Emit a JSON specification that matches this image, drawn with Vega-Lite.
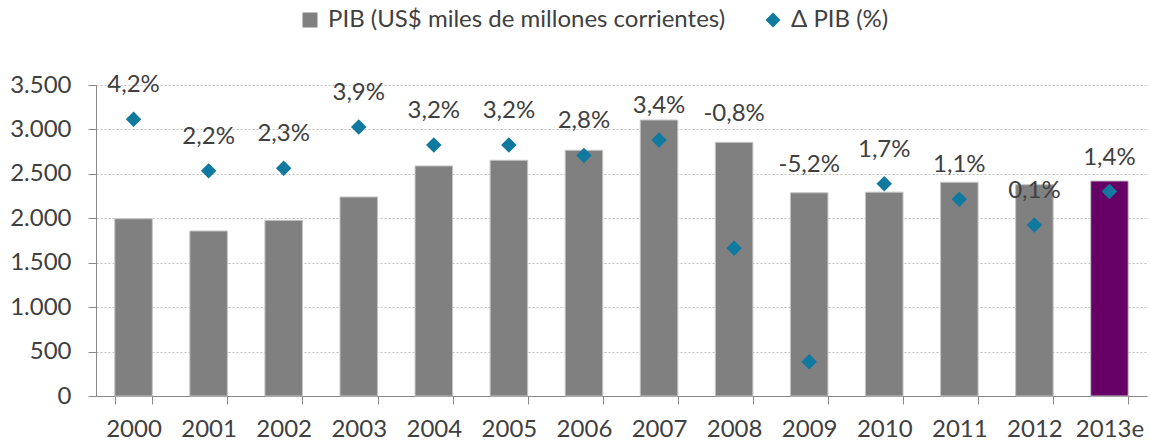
{
  "$schema": "https://vega.github.io/schema/vega-lite/v6.json",
  "autosize": {"type": "none"},
  "width": 1051,
  "height": 311,
  "padding": {"left": 96, "top": 85, "right": 3, "bottom": 46},
  "background": "white",
  "config": {
    "locale": {"number": {"decimal": ",", "thousands": ".", "grouping": [3], "currency": ["$", ""], "minus": "-"}},
    "font": "Lato",
    "view": {"stroke": null},
    "text": {"font": "Lato", "fontSize": 24, "color": "#404040"},
    "legend": {
      "title": null,
      "orient": "none",
      "direction": "horizontal",
      "legendX": 202,
      "legendY": -77,
      "columns": 2,
      "columnPadding": 35,
      "symbolSize": 225,
      "symbolStrokeWidth": 0,
      "labelFont": "Lato",
      "labelFontSize": 24,
      "labelLimit": 0,
      "labelColor": "#404040",
      "labelOffset": 6
    }
  },
  "data": {
    "values": [
      {"anio": "2000", "pib": 1995, "delta": 0.042},
      {"anio": "2001", "pib": 1857, "delta": 0.022},
      {"anio": "2002", "pib": 1977, "delta": 0.023},
      {"anio": "2003", "pib": 2240, "delta": 0.039},
      {"anio": "2004", "pib": 2589, "delta": 0.032},
      {"anio": "2005", "pib": 2653, "delta": 0.032},
      {"anio": "2006", "pib": 2765, "delta": 0.028},
      {"anio": "2007", "pib": 3106, "delta": 0.034},
      {"anio": "2008", "pib": 2855, "delta": -0.008},
      {"anio": "2009", "pib": 2287, "delta": -0.052},
      {"anio": "2010", "pib": 2294, "delta": 0.017},
      {"anio": "2011", "pib": 2405, "delta": 0.011},
      {"anio": "2012", "pib": 2378, "delta": 0.001},
      {"anio": "2013e", "pib": 2420, "delta": 0.014}
    ]
  },
  "encoding": {
    "x": {
      "field": "anio",
      "type": "ordinal",
      "scale": {"paddingInner": 0.5, "paddingOuter": 0.25},
      "axis": {
        "title": null,
        "labelAngle": 0,
        "tickBand": "extent",
        "tickSize": 8,
        "tickColor": "#888888",
        "domainColor": "#888888",
        "labelFont": "Lato",
        "labelFontSize": 24,
        "labelColor": "#404040",
        "labelPadding": 13
      }
    }
  },
  "layer": [
    {
      "mark": {"type": "bar", "stroke": "#c4c4c4", "strokeWidth": 1},
      "encoding": {
        "y": {
          "field": "pib",
          "type": "quantitative",
          "scale": {"domain": [0, 3500], "nice": false, "zero": true},
          "axis": {
            "title": null,
            "values": [0, 500, 1000, 1500, 2000, 2500, 3000, 3500],
            "format": ",d",
            "tickSize": 8,
            "tickColor": "#888888",
            "domainColor": "#888888",
            "gridColor": "#c0c0c0",
            "gridDash": [2, 2],
            "labelFont": "Lato",
            "labelFontSize": 24,
            "labelColor": "#404040",
            "labelPadding": 17
          }
        },
        "color": {
          "condition": {"test": "datum.anio === '2013e'", "value": "#660066"},
          "datum": "PIB (US$ miles de millones corrientes)",
          "scale": {
            "domain": ["PIB (US$ miles de millones corrientes)", "Δ PIB (%)"],
            "range": ["#808080", "#10799f"]
          }
        }
      }
    },
    {
      "transform": [{"filter": "datum.delta < 0"}],
      "mark": {"type": "text", "dy": -28, "baseline": "middle"},
      "encoding": {
        "y": {"field": "pib", "type": "quantitative", "scale": {"domain": [0, 3500], "nice": false}, "axis": null},
        "text": {"field": "delta", "type": "quantitative", "format": ".1%"}
      }
    },
    {
      "mark": {"type": "point", "filled": true, "size": 240, "opacity": 1},
      "encoding": {
        "y": {"field": "delta", "type": "quantitative", "scale": {"domain": [-0.0653, 0.0553], "nice": false, "zero": false}, "axis": null},
        "color": {"datum": "Δ PIB (%)"},
        "shape": {
          "datum": "Δ PIB (%)",
          "scale": {
            "domain": ["PIB (US$ miles de millones corrientes)", "Δ PIB (%)"],
            "range": ["square", "diamond"]
          }
        }
      }
    },
    {
      "transform": [{"filter": "datum.delta >= 0"}],
      "mark": {"type": "text", "dy": -34, "baseline": "middle"},
      "encoding": {
        "y": {"field": "delta", "type": "quantitative", "scale": {"domain": [-0.0653, 0.0553], "nice": false, "zero": false}, "axis": null},
        "text": {"field": "delta", "type": "quantitative", "format": ".1%"}
      }
    }
  ],
  "resolve": {"scale": {"y": "independent"}}
}
